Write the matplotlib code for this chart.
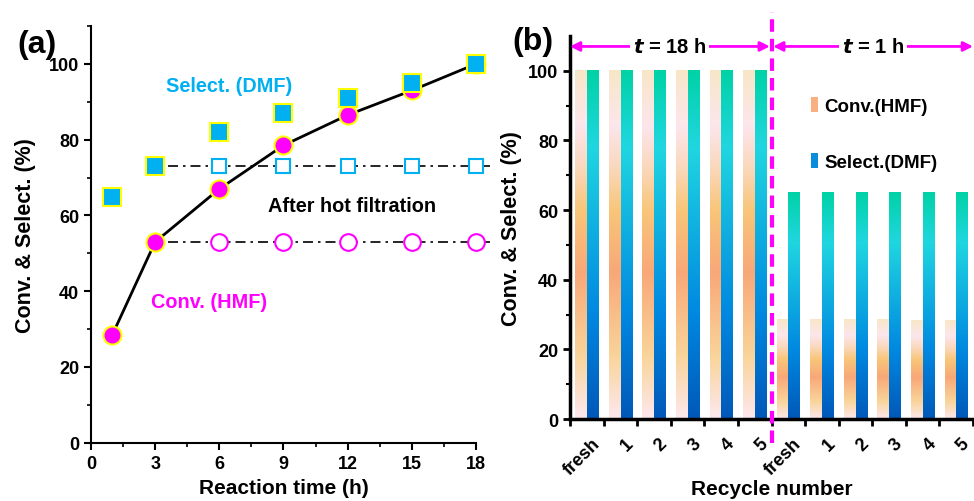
import numpy as np
import matplotlib
matplotlib.use("Agg")
import matplotlib.pyplot as plt
import matplotlib.transforms as mtrans
from matplotlib.colors import LinearSegmentedColormap
from matplotlib.patches import Patch
from matplotlib.ticker import MultipleLocator, FixedLocator

plt.rcParams['font.family'] = ['Liberation Sans', 'DejaVu Sans']
plt.rcParams['font.weight'] = 'bold'
plt.rcParams['axes.labelweight'] = 'bold'

# ---- data, panel (a)
time_h = [1, 3, 6, 9, 12, 15, 18]
conv_hmf = [28.5, 53, 67, 78.5, 86.5, 93, 100]
select_dmf = [65, 73, 82, 87, 91, 95, 100]
filt_time = [6, 9, 12, 15, 18]
filt_conv = [53, 53, 53, 53, 53]
filt_select = [73, 73, 73, 73, 73]

# ---- data, panel (b)
recycle_labels = ['fresh', '1', '2', '3', '4', '5', 'fresh', '1', '2', '3', '4', '5']
recycle_conv = [100, 100, 100, 100, 100, 100, 28.5, 28.5, 28.5, 28.5, 28.2, 28.2]
recycle_select = [100, 100, 100, 100, 100, 100, 65, 65, 65, 65, 65, 65]

MAG = '#FF00FF'
BLUE = '#00B0F0'
YEL = '#FFFF00'

fig = plt.figure(figsize=(9.74, 5.02), dpi=100)

#%% panel (a)
ax1 = fig.add_axes([0.0934, 0.1161, 0.3953, 0.83])
ax1.plot(time_h, conv_hmf, '-', color='black', lw=2, zorder=2)
ax1.plot(time_h, conv_hmf, 'o', ms=13, mfc=MAG, mec=YEL, mew=1.5, zorder=3, clip_on=False)
ax1.plot(time_h, select_dmf, 's', ms=12.5, mfc=BLUE, mec=YEL, mew=1.5, zorder=4, clip_on=False)

ax1.plot([3.6, 18.65], [filt_select[0]] * 2, color='black', lw=1.2, ls=(0, (6, 3, 1.5, 3)), zorder=1, clip_on=False)
ax1.plot([3.6, 18.65], [filt_conv[0]] * 2, color='black', lw=1.2, ls=(0, (6, 3, 1.5, 3)), zorder=1, clip_on=False)
ax1.plot(filt_time, filt_select, 's', ms=10.5, mfc='white', mec=BLUE, mew=1.5, zorder=3, clip_on=False)
ax1.plot(filt_time, filt_conv, 'o', ms=12, mfc='white', mec=MAG, mew=1.5, zorder=3, clip_on=False)

ax1.text(6.45, 94.2, 'Select. (DMF)', color=BLUE, fontsize=14.3, ha='center', va='center')
ax1.text(12.2, 62.5, 'After hot filtration', color='black', fontsize=14.3, ha='center', va='center')
ax1.text(5.5, 37.4, 'Conv. (HMF)', color=MAG, fontsize=14.3, ha='center', va='center')

ax1.set_xlim(0, 18)
ax1.set_ylim(0, 110)
ax1.set_xticks(range(0, 19, 3))
ax1.set_yticks(range(0, 101, 20))
ax1.xaxis.set_minor_locator(MultipleLocator(1.5))
ax1.yaxis.set_minor_locator(FixedLocator([10, 30, 50, 70, 90, 110]))
for s in ['top', 'right']:
    ax1.spines[s].set_visible(False)
for s in ['left', 'bottom']:
    ax1.spines[s].set_linewidth(1.5)
ax1.tick_params(which='major', direction='out', length=5, width=1.5, labelsize=13)
ax1.tick_params(which='minor', direction='out', length=3, width=1.2)
ax1.set_xlabel('Reaction time (h)', fontsize=15, labelpad=5)
ax1.set_ylabel('Conv. & Select. (%)', fontsize=15.5, labelpad=9)
fig.text(0.038, 0.91, '(a)', fontsize=23, ha='center', va='center')

#%% panel (b)
ax2 = fig.add_axes([0.5852, 0.1633, 0.4138, 0.763])
x = np.arange(len(recycle_labels))
w = 0.34
b_conv = ax2.bar(x - 0.175, recycle_conv, w, color='none', zorder=2)
b_sel = ax2.bar(x + 0.175, recycle_select, w, color='none', zorder=2)

cmap_conv = LinearSegmentedColormap.from_list('conv', [
    (0.0, '#FDE8EE'), (0.18, '#F9D49A'), (0.42, '#F8A878'), (0.6, '#F8C67A'),
    (0.72, '#FAD8BC'), (0.84, '#FCE6EC'), (1.0, '#F8E6C8')])
cmap_sel = LinearSegmentedColormap.from_list('sel', [
    (0.0, '#0058B8'), (0.3, '#0088E0'), (0.55, '#10B0E0'), (0.78, '#20D6E0'),
    (1.0, '#00D2A6')])
grad = np.linspace(0, 1, 256).reshape(-1, 1)
for bars, cm in [(b_conv, cmap_conv), (b_sel, cmap_sel)]:
    for p in bars.patches:
        x0, y0 = p.get_x(), p.get_y()
        ax2.imshow(grad, cmap=cm, origin='lower', aspect='auto', zorder=1,
                   extent=[x0, x0 + p.get_width(), y0, y0 + p.get_height()])

ax2.set_xlim(-0.5, 11.5)
ax2.set_ylim(0, 110)
ax2.set_xticks(x)
ax2.set_xticklabels(recycle_labels, rotation=45, ha='right', va='top', rotation_mode='anchor')
ax2.xaxis.set_minor_locator(FixedLocator(np.arange(-0.5, 12, 1)))
ax2.set_yticks(range(0, 101, 20))
ax2.yaxis.set_minor_locator(FixedLocator([10, 30, 50, 70, 90]))
for s in ['top', 'right']:
    ax2.spines[s].set_visible(False)
for s in ['left', 'bottom']:
    ax2.spines[s].set_linewidth(2.5)
ax2.tick_params(axis='x', which='major', length=0, labelsize=13, pad=11)
ax2.tick_params(axis='x', which='minor', direction='out', length=5, width=2)
ax2.tick_params(axis='y', which='major', direction='out', length=5, width=2, labelsize=13)
ax2.tick_params(axis='y', which='minor', direction='out', length=3, width=1.5)
for lab in ax2.get_xticklabels():
    lab.set_transform(lab.get_transform() + mtrans.ScaledTranslation(0.045, 0.0, fig.dpi_scale_trans))
ax2.set_xlabel('Recycle number', fontsize=15, labelpad=1)
ax2.set_ylabel('Conv. & Select. (%)', fontsize=15.5, labelpad=4)

# divider and time arrows
ax2.plot([5.5, 5.5], [-7, 117], color=MAG, lw=3, ls=(0, (3, 1.7)), clip_on=False, zorder=5)
for (a0, a1), lab in [((-0.5, 5.45), r'$\bf{\it{t}}$ = 18 h'), ((5.55, 11.5), r'$\bf{\it{t}}$ = 1 h')]:
    ax2.annotate('', xy=(a0, 107), xytext=(a1, 107), annotation_clip=False,
                 arrowprops=dict(arrowstyle='<|-|>', color=MAG, lw=2, mutation_scale=14,
                                 shrinkA=0, shrinkB=0))
    ax2.text((a0 + a1) / 2, 107, lab, fontsize=14.5, ha='center', va='center',
             bbox=dict(facecolor='white', edgecolor='none', pad=2), zorder=6)

handles = [Patch(facecolor='#F8B080', edgecolor='none'), Patch(facecolor='#0A8EDC', edgecolor='none')]
ax2.legend(handles, ['Conv.(HMF)', 'Select.(DMF)'], loc='upper left', bbox_to_anchor=(0.555, 0.885),
           frameon=False, fontsize=13.5, handlelength=0.4, handleheight=0.9, handletextpad=0.35,
           labelspacing=2.0)
fig.text(0.547, 0.916, '(b)', fontsize=23, ha='center', va='center')

fig.savefig('out.png', dpi=100)
